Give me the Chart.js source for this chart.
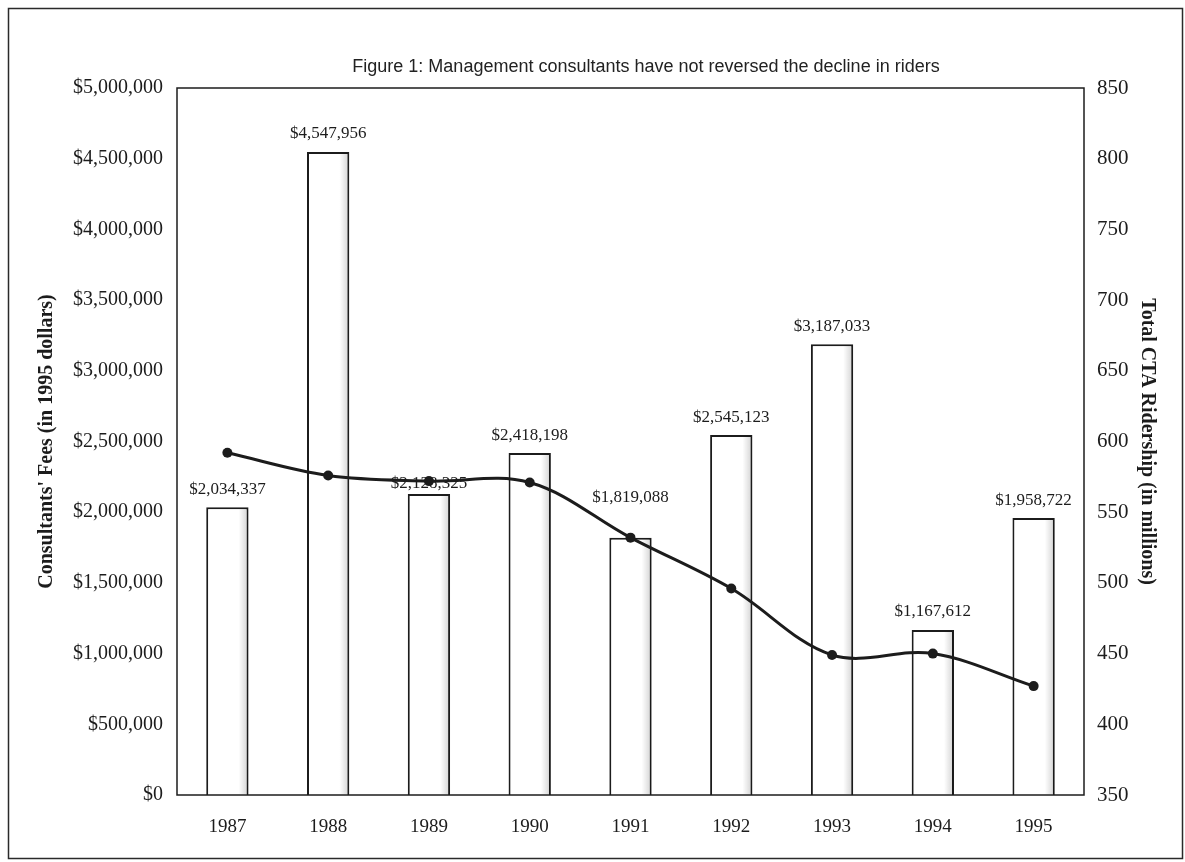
<!DOCTYPE html>
<html>
<head>
<meta charset="utf-8">
<title>Consultants' fees vs CTA ridership</title>
<script src="https://cdn.jsdelivr.net/npm/chart.js@4.4.0/dist/chart.umd.min.js"></script>
<style>
  html, body { margin: 0; padding: 0; background: #fff; }
  canvas { display: block; }
</style>
</head>
<body>
<canvas id="fees-chart" width="1185" height="862"></canvas>
<script>
"use strict";

// data
const years = ['1987', '1988', '1989', '1990', '1991', '1992', '1993', '1994', '1995'];
const fees = [2034337, 4547956, 2128325, 2418198, 1819088, 2545123, 3187033, 1167612, 1958722];
const ridership = [592, 576, 572, 571, 532, 496, 449, 450, 427];

const feeTicks = [0, 500000, 1000000, 1500000, 2000000, 2500000, 3000000, 3500000, 4000000, 4500000, 5000000];
const riderTicks = [350, 400, 450, 500, 550, 600, 650, 700, 750, 800, 850];

const title_text = 'Figure 1: Management consultants have not reversed the decline in riders';

const ink = '#1c1c1c';
const serif = '"Liberation Serif", "Times New Roman", serif';
const sans = '"Liberation Sans", Arial, sans-serif';

const money = v => '$' + Math.round(v).toLocaleString('en-US');

/* --- extra drawing: bar shading, frames, title, bar labels --- */

const decorations = {
  id: 'decorations',
  afterDatasetDraw(chart, args) {
    if (args.index !== 1) return;
    // grey scan shading along the inner right edge of each bar
    const ctx = chart.ctx;
    ctx.save();
    args.meta.data.forEach(bar => {
      const right = bar.x + bar.width / 2 - 1;
      const g = ctx.createLinearGradient(right - 9, 0, right, 0);
      g.addColorStop(0, 'rgba(0,0,0,0)');
      g.addColorStop(1, 'rgba(0,0,0,0.16)');
      ctx.fillStyle = g;
      ctx.fillRect(right - 9, bar.y + 1, 9, bar.base - bar.y - 2);
    });
    ctx.restore();
  },
  afterDatasetsDraw(chart) {
    const ctx = chart.ctx;
    const area = chart.chartArea;
    ctx.save();

    // outer frame of the figure
    ctx.strokeStyle = '#2a2a2a';
    ctx.lineWidth = 1.5;
    ctx.strokeRect(8.5, 8.5, 1174, 850);

    // plot box
    ctx.strokeStyle = ink;
    ctx.lineWidth = 1.5;
    ctx.strokeRect(area.left, area.top, area.right - area.left, area.bottom - area.top);

    // title
    ctx.fillStyle = '#222';
    ctx.font = '18px ' + sans;
    ctx.textAlign = 'center';
    ctx.textBaseline = 'middle';
    ctx.fillText(title_text, 646, 67);

    // value labels above bars
    const nudge = { 2: 7, 4: -22 };
    const bars = chart.getDatasetMeta(1).data;
    ctx.font = '17px ' + serif;
    ctx.fillStyle = ink;
    bars.forEach((bar, i) => {
      const y = bar.y - 18 + (nudge[i] || 0);
      ctx.fillText(money(fees[i]), bar.x, y);
    });

    ctx.restore();
  }
};

const fees_chart = new Chart(document.getElementById('fees-chart'), {
  data: {
    labels: years,
    datasets: [
      {
        type: 'line',
        label: 'Total CTA Ridership',
        data: ridership,
        yAxisID: 'y1',
        borderColor: ink,
        backgroundColor: ink,
        borderWidth: 3,
        pointRadius: 5,
        pointBackgroundColor: ink,
        pointBorderWidth: 0,
        tension: 0.35,
        order: 0
      },
      {
        type: 'bar',
        label: "Consultants' Fees",
        data: fees,
        yAxisID: 'y',
        backgroundColor: '#fff',
        borderColor: ink,
        borderWidth: 2,
        barPercentage: 0.42,
        categoryPercentage: 1,
        order: 1
      }
    ]
  },
  options: {
    responsive: false,
    animation: false,
    layout: {
      padding: { top: 88, left: 31, right: 22, bottom: 10 }
    },
    plugins: {
      legend: { display: false },
      tooltip: { enabled: false },
      title: { display: false }
    },
    scales: {
      x: {
        offset: true,
        grid: { display: false, drawTicks: false },
        border: { display: false },
        ticks: {
          padding: 21,
          color: ink,
          font: { family: serif, size: 19 }
        },
        afterFit(scale) { scale.height = 57; }
      },
      y: {
        position: 'left',
        min: 0,
        max: 5000000,
        grid: { display: false, drawTicks: false },
        border: { display: false },
        afterBuildTicks(scale) { scale.ticks = feeTicks.map(v => ({ value: v })); },
        ticks: {
          padding: 14,
          color: ink,
          font: { family: serif, size: 20 },
          callback: v => money(v)
        },
        title: {
          display: true,
          text: "Consultants' Fees (in 1995 dollars)",
          color: ink,
          font: { family: serif, size: 20, weight: 'bold' }
        },
        afterFit(scale) { scale.width = 146; }
      },
      y1: {
        position: 'right',
        min: 350,
        max: 850,
        grid: { display: false, drawTicks: false },
        border: { display: false },
        afterBuildTicks(scale) { scale.ticks = riderTicks.map(v => ({ value: v })); },
        ticks: {
          padding: 13,
          color: ink,
          font: { family: serif, size: 21 }
        },
        title: {
          display: true,
          text: 'Total CTA Ridership (in millions)',
          color: ink,
          font: { family: serif, size: 20, weight: 'bold' }
        },
        afterFit(scale) { scale.width = 79; }
      }
    }
  },
  plugins: [decorations]
});
</script>
</body>
</html>
